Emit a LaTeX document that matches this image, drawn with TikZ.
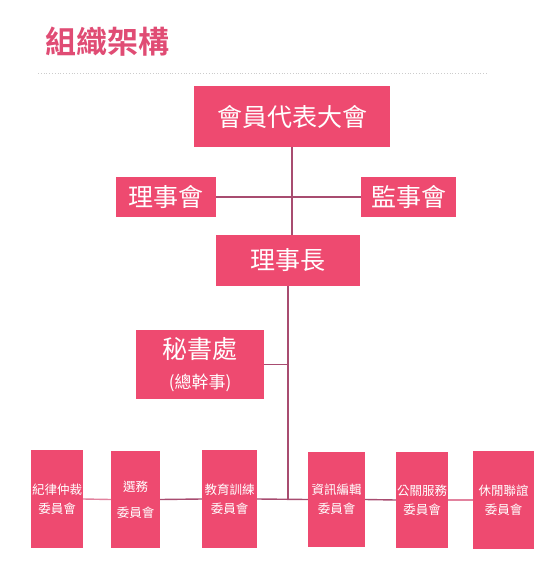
\documentclass[tikz,border=0pt]{standalone}
\usepackage{fontspec}
\usepackage{tikz}
\usetikzlibrary{positioning}
\newfontfamily\cjk{Noto Sans CJK TC}
\newfontfamily\cjkbold{Noto Sans CJK TC Bold}
\definecolor{boxpink}{RGB}{238,74,112}
\definecolor{titlepink}{RGB}{224,76,116}
\definecolor{linemauve}{RGB}{168,76,112}
\definecolor{linelight}{RGB}{226,130,158}

\begin{document}
\begin{tikzpicture}[x=1pt, y=-1pt,
  orgbox/.style={fill=boxpink, text=white, inner sep=0pt, align=center, font=\cjk},
  link/.style={linemauve, line width=1.4pt},
  softlink/.style={linelight, line width=1.4pt}]
  \useasboundingbox (0,0) rectangle (550,575);
  % title and rule
  \node[anchor=west, text=titlepink, font=\cjkbold\fontsize{31}{31}\selectfont, inner sep=0pt] (title) at (45,42) {組織架構};
  \draw[gray!40, dotted, line width=0.8pt] (38,73) -- (487,73);
  % upper levels
  \node[orgbox, minimum width=196pt, minimum height=61pt, font=\cjk\fontsize{25}{25}\selectfont] (assembly) at (292,116.5) {會員代表大會};
  \node[orgbox, minimum width=100pt, minimum height=40pt, font=\cjk\fontsize{25}{25}\selectfont] (board) at (166,197) {理事會};
  \node[orgbox, minimum width=95pt, minimum height=40pt, font=\cjk\fontsize{25}{25}\selectfont] (supervisors) at (408.5,197) {監事會};
  \node[orgbox, minimum width=144pt, minimum height=51pt, font=\cjk\fontsize{25}{25}\selectfont] (chair) at (288,260.5) {理事長};
  \node[orgbox, minimum width=128pt, minimum height=69pt, font=\cjk\fontsize{25}{30}\selectfont] (secretariat) at (200,364.5) {秘書處\\{\fontsize{17}{30}\selectfont (總幹事)}};
  % committees
  \node[orgbox, minimum width=52pt, minimum height=98pt, font=\cjk\fontsize{12.5}{19}\selectfont] (discipline) at (57,499) {紀律仲裁\\委員會};
  \node[orgbox, minimum width=49pt, minimum height=97pt, font=\cjk\fontsize{12.5}{26}\selectfont] (election) at (135.5,499.5) {選務\\委員會};
  \node[orgbox, minimum width=55pt, minimum height=98pt, font=\cjk\fontsize{12.5}{19}\selectfont] (training) at (229.5,499) {教育訓練\\委員會};
  \node[orgbox, minimum width=57pt, minimum height=95pt, font=\cjk\fontsize{12.5}{19}\selectfont] (editing) at (336.5,499.5) {資訊編輯\\委員會};
  \node[orgbox, minimum width=52pt, minimum height=96pt, font=\cjk\fontsize{12.5}{19}\selectfont] (publicrel) at (422,500) {公關服務\\委員會};
  \node[orgbox, minimum width=61pt, minimum height=98pt, font=\cjk\fontsize{12.5}{19}\selectfont] (leisure) at (503.5,500) {休閒聯誼\\委員會};
  \coordinate (hub) at (288,499.5);
  % connectors
  \draw[link] (assembly.south) -- (assembly.south |- chair.north);
  \draw[link] (board.east) -- (supervisors.west);
  \draw[link] (chair.south) -- (hub);
  \draw[link] (secretariat.east) -- (secretariat.east -| hub);
  \draw[softlink] (discipline.east) -- (election.west);
  \draw[link] (election.east) -- (training.west);
  \draw[link] (training.east) -- (editing.west);
  \draw[link] (editing.east) -- (publicrel.west);
  \draw[softlink] (publicrel.east) -- (leisure.west);
\end{tikzpicture}
\end{document}
